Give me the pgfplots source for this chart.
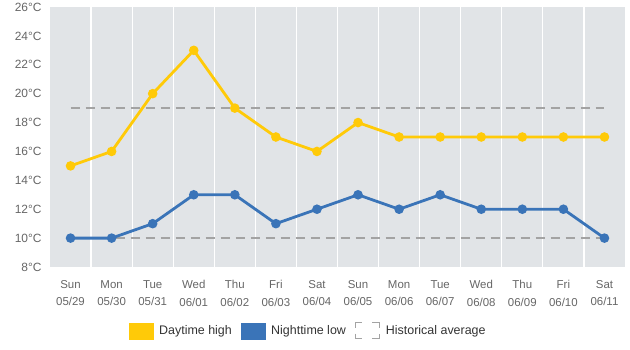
\documentclass[border=0pt]{standalone}
\usepackage{pgfplots}
\pgfplotsset{compat=1.18}
\usepackage{fontspec}
\setmainfont{Liberation Sans}
\definecolor{bgc}{HTML}{E1E4E7}
\definecolor{dayc}{HTML}{FFCA08}
\definecolor{nightc}{HTML}{3A74B8}
\definecolor{avgc}{HTML}{A3A3A3}
\definecolor{txtc}{HTML}{666666}
\begin{document}
\begin{tikzpicture}
\begin{axis}[
  name=ax,
  scale only axis,
  width=575bp, height=260bp,
  xmin=-0.5, xmax=13.5, ymin=8, ymax=26,
  axis line style={draw=none},
  axis background/.style={fill=bgc},
  xtick={0,...,13},
  xticklabels={{Sun\\05/29},{Mon\\05/30},{Tue\\05/31},{Wed\\06/01},{Thu\\06/02},{Fri\\06/03},{Sat\\06/04},{Sun\\06/05},{Mon\\06/06},{Tue\\06/07},{Wed\\06/08},{Thu\\06/09},{Fri\\06/10},{Sat\\06/11}},
  xticklabel style={align=center, text=txtc, font=\fontsize{11.5}{17.5}\selectfont, yshift=-10bp},
  minor xtick={0.5,1.5,...,12.5},
  xminorgrids,
  minor x grid style={white, line width=1.2bp},
  ytick={8,10,...,26},
  yticklabel={\pgfmathprintnumber{\tick}°C},
  /pgf/number format/assume math mode=true,
  yticklabel style={text=txtc, font=\fontsize{12}{14}\selectfont, xshift=-5bp},
  major tick length=0pt, minor tick length=0pt,
  legend style={draw=none, fill=none, at={(0.449,-0.245)}, anchor=center,
    legend columns=3, font=\fontsize{12.5}{14}\selectfont, text=black!80,
    /tikz/every odd column/.append style={column sep=4bp},
    /tikz/every even column/.append style={column sep=7bp}},
  legend cell align=left,
  clip=false,
]
\addplot[avgc, line width=2.2bp, dash pattern=on 9bp off 6bp, forget plot] coordinates {(0,19) (13,19)};
\addplot[avgc, line width=2.2bp, dash pattern=on 9bp off 6bp, forget plot] coordinates {(0,10) (13,10)};
\addplot[dayc, line width=2.8bp, mark=*, mark size=3.3bp, mark options={fill=dayc, draw=dayc}, forget plot] coordinates {
(0,15) (1,16) (2,20) (3,23) (4,19) (5,17) (6,16) (7,18) (8,17) (9,17) (10,17) (11,17) (12,17) (13,17)};
\addplot[nightc, line width=2.8bp, mark=*, mark size=3.3bp, mark options={fill=nightc, draw=nightc}, forget plot] coordinates {
(0,10) (1,10) (2,11) (3,13) (4,13) (5,11) (6,12) (7,13) (8,12) (9,13) (10,12) (11,12) (12,12) (13,10)};
\addlegendimage{legend image code/.code={\fill[dayc] (0bp,-8bp) rectangle (24bp,8bp);}}
\addlegendentry{Daytime high}
\addlegendimage{legend image code/.code={\fill[nightc] (0bp,-8bp) rectangle (24bp,8bp);}}
\addlegendentry{Nighttime low}
\addlegendimage{legend image code/.code={
  \draw[avgc, line width=1bp] (0bp,-3bp) -- (0bp,-8bp) -- (7bp,-8bp);
  \draw[avgc, line width=1bp] (17bp,-8bp) -- (24bp,-8bp) -- (24bp,-3bp);
  \draw[avgc, line width=1bp] (0bp,3bp) -- (0bp,8bp) -- (7bp,8bp);
  \draw[avgc, line width=1bp] (17bp,8bp) -- (24bp,8bp) -- (24bp,3bp);}}
\addlegendentry{Historical average}
\end{axis}
\pgfresetboundingbox
\path ([shift={(-50bp,-83bp)}]ax.south west) rectangle ([shift={(5bp,7bp)}]ax.north east);
\end{tikzpicture}
\end{document}
